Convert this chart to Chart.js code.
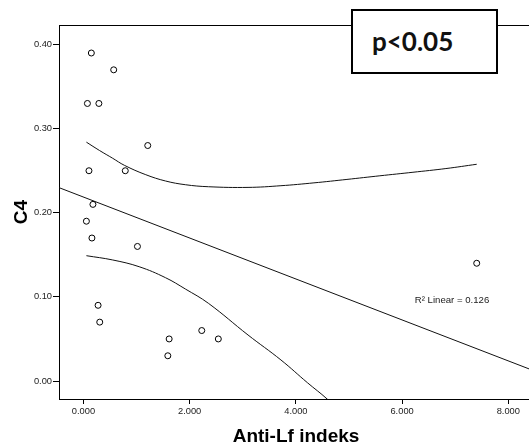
<!DOCTYPE html>
<html>
<head>
<meta charset="utf-8">
<script src="https://cdn.jsdelivr.net/npm/chart.js@4"></script>
<style>
  html, body { margin: 0; padding: 0; overflow: hidden; background: #fff; width: 529px; height: 448px; }
  #wrap { position: relative; width: 538px; height: 448px; }
  #pbox {
    position: absolute; left: 351px; top: 9px; width: 147px; height: 65px;
    border: 2px solid #000; background: #fff; box-sizing: border-box;
    display: flex; align-items: center; padding-left: 19px; padding-bottom: 2px;
    font-family: Lato, "Noto Sans", sans-serif; font-weight: bold; font-size: 26px; color: #111;
  }
</style>
</head>
<body>
<div id="wrap">
  <canvas id="c" width="538" height="448"></canvas>
  <div id="pbox">p&lt;0.05</div>
</div>
<script>
// Observed points
const antiLf = [0.149, 0.570, 0.075, 0.291, 1.211, 0.104, 0.788, 0.179, 0.056, 0.160, 1.017, 7.405, 0.276, 0.307, 1.614, 1.589, 2.228, 2.540];
const c4     = [0.39, 0.37, 0.33, 0.33, 0.28, 0.25, 0.25, 0.21, 0.19, 0.17, 0.16, 0.14, 0.09, 0.07, 0.05, 0.03, 0.06, 0.05];

// Fit line
const fitX = [-0.5, 8.6];
const fitY = [0.2309, 0.0093];

// Upper 95% band
const upperX = [0.056, 0.305, 0.552, 0.770, 1.174, 1.547, 1.919, 2.353, 3.099, 3.719, 4.341, 4.962, 5.582, 6.205, 6.825, 7.405];
const upperY = [0.284, 0.274, 0.2648, 0.2565, 0.2453, 0.2378, 0.2334, 0.2310, 0.2302, 0.2322, 0.2356, 0.2397, 0.2440, 0.2482, 0.2526, 0.2577];

// Lower 95% band
const lowerX = [0.056, 0.552, 1.049, 1.547, 1.919, 2.353, 3.099, 3.719, 4.217, 4.589, 4.962, 5.582, 6.205, 6.825, 7.405];
const lowerY = [0.149, 0.1439, 0.1359, 0.1228, 0.1094, 0.0924, 0.0547, 0.0250, -0.0020, -0.0214, -0.044, -0.0785, -0.113, -0.1475, -0.181];

// Axes
const xTicks = [0, 2, 4, 6, 8];
const yTicks = [0.00, 0.10, 0.20, 0.30, 0.40];
const X_MIN = -0.46, X_MAX = 8.465;
const Y_MIN = -0.0214, Y_MAX = 0.4233;

const r2Label = { x: 6.24, y: 0.0955, text: 'R\u00B2 Linear = 0.126' };

const zip = (xs, ys) => xs.map((x, i) => ({ x: x, y: ys[i] }));
const FONT = '"Liberation Sans", Arial, sans-serif';

const framePlugin = {
  id: 'frame',
  afterDraw(chart) {
    const { ctx, chartArea, scales } = chart;
    ctx.save();
    ctx.strokeStyle = '#000';
    ctx.lineWidth = 1;
    ctx.beginPath();
    ctx.moveTo(chartArea.left, chartArea.top + 0.5);
    ctx.lineTo(chartArea.right, chartArea.top + 0.5);
    ctx.stroke();
    ctx.fillStyle = '#222';
    ctx.font = '9.6px ' + FONT;
    ctx.textAlign = 'left';
    ctx.textBaseline = 'middle';
    ctx.fillText(r2Label.text, scales.x.getPixelForValue(r2Label.x), scales.y.getPixelForValue(r2Label.y));
    ctx.restore();
  }
};

const lineStyle = { showLine: true, pointRadius: 0, borderColor: '#111', borderWidth: 1, fill: false };

new Chart(document.getElementById('c'), {
  type: 'scatter',
  data: {
    datasets: [
      { data: zip(antiLf, c4), pointStyle: 'circle', pointRadius: 3, borderWidth: 1,
        pointBorderColor: '#000', pointBackgroundColor: 'rgba(0,0,0,0)', borderColor: '#000', backgroundColor: 'rgba(0,0,0,0)' },
      Object.assign({ data: zip(fitX, fitY) }, lineStyle),
      Object.assign({ data: zip(upperX, upperY), tension: 0.4 }, lineStyle),
      Object.assign({ data: zip(lowerX, lowerY), tension: 0.4 }, lineStyle)
    ]
  },
  options: {
    responsive: false,
    animation: false,
    devicePixelRatio: 1,
    layout: { padding: { top: 25, left: 0, right: 0, bottom: 0 } },
    plugins: { legend: { display: false }, tooltip: { enabled: false } },
    scales: {
      x: {
        type: 'linear', min: X_MIN, max: X_MAX,
        afterBuildTicks: s => { s.ticks = xTicks.map(v => ({ value: v })); },
        afterFit: s => { s.height = 49; s.paddingLeft = 0; s.paddingRight = 0; },
        grid: { drawOnChartArea: false, drawTicks: true, tickLength: 5, color: '#000', lineWidth: 1 },
        border: { display: true, color: '#000', width: 1 },
        ticks: { font: { family: FONT, size: 9.3 }, color: '#222', padding: 2, maxRotation: 0, autoSkip: false,
                 callback: v => Number(v).toFixed(3) },
        title: { display: true, text: 'Anti-Lf indeks', color: '#000',
                 font: { family: FONT, size: 19, weight: 'bold' }, padding: { top: 0, bottom: 0 } }
      },
      y: {
        type: 'linear', min: Y_MIN, max: Y_MAX,
        afterBuildTicks: s => { s.ticks = yTicks.map(v => ({ value: v })); },
        afterFit: s => { s.width = 59; s.paddingTop = 0; s.paddingBottom = 0; },
        grid: { drawOnChartArea: false, drawTicks: true, tickLength: 6, color: '#000', lineWidth: 1 },
        border: { display: true, color: '#000', width: 1 },
        ticks: { font: { family: FONT, size: 9.3 }, color: '#222', padding: 1, autoSkip: false,
                 callback: v => Number(v).toFixed(2) },
        title: { display: true, text: 'C4', color: '#000',
                 font: { family: FONT, size: 19, weight: 'bold' }, padding: { top: 10, bottom: 0 } }
      }
    }
  },
  plugins: [framePlugin]
});
</script>
</body>
</html>
